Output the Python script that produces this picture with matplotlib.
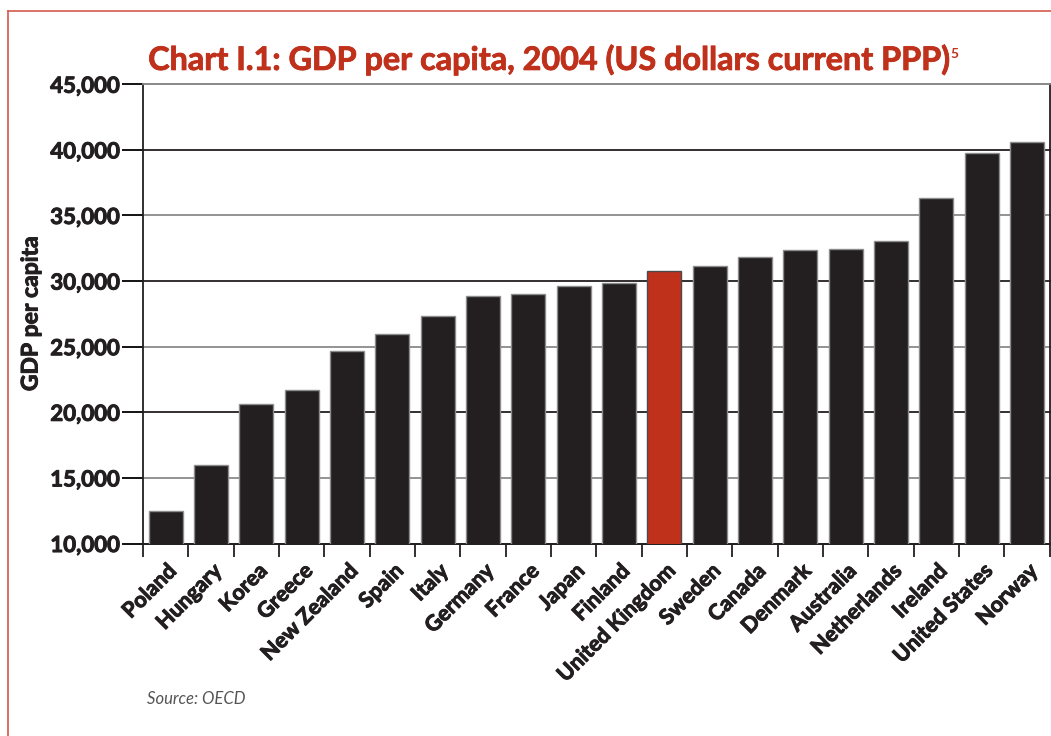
import matplotlib.pyplot as plt
import numpy as np
from matplotlib.lines import Line2D
import matplotlib.patheffects as pe

countries = ["Poland", "Hungary", "Korea", "Greece", "New Zealand", "Spain", "Italy",
             "Germany", "France", "Japan", "Finland", "United Kingdom", "Sweden",
             "Canada", "Denmark", "Australia", "Netherlands", "Ireland",
             "United States", "Norway"]
gdp = [12480, 15960, 20630, 21700, 24670, 25950, 27340, 28840, 29020, 29650, 29830,
       30790, 31150, 31840, 32350, 32420, 33050, 36310, 39740, 40630]
highlight = "United Kingdom"
yticks = [10000, 15000, 20000, 25000, 30000, 35000, 40000, 45000]

dark = "#231f20"
red = "#c0311c"

plt.rcParams['font.family'] = ['Lato', 'DejaVu Sans']

# slight stroke to thicken the bold labels
heavy = [pe.withStroke(linewidth=0.7, foreground=dark)]
heavy_red = [pe.withStroke(linewidth=0.6, foreground=red)]

fig = plt.figure(figsize=(10.51, 7.36), dpi=100)
ax = fig.add_axes([0.1361, 0.2615, 0.8625, 0.624])

x = np.arange(len(countries))
colors = [red if c == highlight else dark for c in countries]
edges = ["#4a4a4a" if c == highlight else "#8c8c8c" for c in countries]
ax.bar(x, gdp, width=0.75, color=colors, edgecolor=edges, linewidth=1.0, zorder=3)

# alternating dark / grey gridlines
for i, v in enumerate(yticks):
    lc = dark if i % 2 == 0 else "#8a8a8a"
    ax.axhline(v, color=lc, lw=1.3, zorder=1, clip_on=False)

ax.set_xlim(-0.5, len(countries) - 0.5)
ax.set_ylim(10000, 45000)
ax.set_yticks(yticks)
ax.set_yticklabels([f"{v:,}" for v in yticks], fontsize=16, fontweight='bold', color=dark)
ax.tick_params(axis='y', length=15, width=1.3, pad=2)
for i, t in enumerate(ax.yaxis.get_major_ticks()):
    t.tick1line.set_color(dark if i % 2 == 0 else "#8a8a8a")

ax.set_xticks(x)
ax.set_xticklabels(countries, rotation=45, ha='right', rotation_mode='anchor',
                   fontsize=15.5, fontweight='bold', color=dark)
ax.tick_params(axis='x', length=0, pad=12)
ax.set_xticks(np.arange(-0.5, len(countries)), minor=True)
ax.tick_params(axis='x', which='minor', length=9, width=1.3, color=dark)

for lbl in ax.get_xticklabels() + ax.get_yticklabels():
    lbl.set_path_effects(heavy)

for s in ['left', 'right', 'bottom']:
    ax.spines[s].set_color(dark)
    ax.spines[s].set_linewidth(1.3)
ax.spines['top'].set_color("#8a8a8a")
ax.spines['top'].set_linewidth(1.3)

ax.set_ylabel("GDP per capita", fontsize=16.5, fontweight='bold', color=dark,
              path_effects=heavy)
ax.yaxis.set_label_coords(-0.112, 0.5)

fig.text(0.141, 0.905, "Chart I.1: GDP per capita, 2004 (US dollars current PPP)",
         fontsize=23.3, fontweight='bold', color=red, path_effects=heavy_red)
fig.text(0.904, 0.921, "5", fontsize=10, fontweight='bold', color=red)
fig.text(0.14, 0.043, "Source: OECD", fontsize=12, fontstyle='italic', color="#555555")

# red frame lines
fig.add_artist(Line2D([0.0075, 1.0], [0.985, 0.985], color="#d45a4c", lw=1.2))
fig.add_artist(Line2D([0.0075, 0.0075], [0.0, 0.985], color="#d45a4c", lw=1.2))

fig.savefig("out.png", dpi=100)
